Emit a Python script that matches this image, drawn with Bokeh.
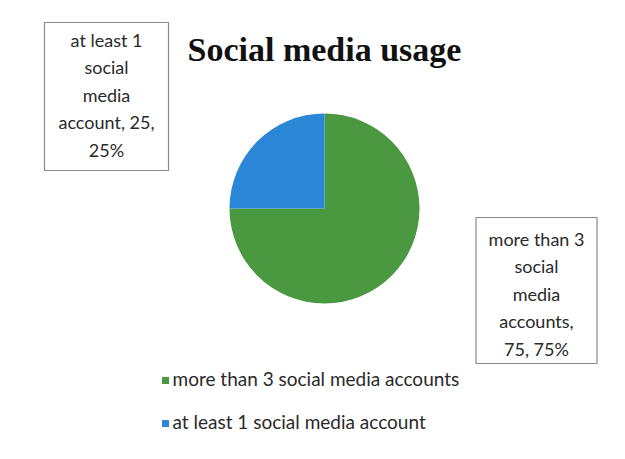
import numpy as np
from bokeh.plotting import figure
from bokeh.models import Range1d, ColumnDataSource
from bokeh.core.properties import value
from bokeh.embed import file_html
from bokeh.resources import INLINE

title = "Social media usage"
categories = ["more than 3 social media accounts", "at least 1 social media account"]
values = [75, 25]
colors = ["#4a983f", "#2c86d8"]
label_texts = ["more than 3\nsocial\nmedia\naccounts,\n75, 75%",
               "at least 1\nsocial\nmedia\naccount, 25,\n25%"]

W, H = 625, 459
p = figure(width=W, height=H, output_backend="svg", toolbar_location=None,
           x_range=Range1d(0, W), y_range=Range1d(H, 0),
           min_border=0, outline_line_color=None)
p.axis.visible = False
p.grid.visible = False
p.background_fill_color = "white"

# pie: starts at 12 o'clock and runs clockwise
total = sum(values)
fr = np.array(values) / total
ends = np.cumsum(fr) * 2 * np.pi
starts = ends - fr * 2 * np.pi
src = ColumnDataSource(dict(start=np.pi / 2 - starts, end=np.pi / 2 - ends, color=colors))
p.wedge(x=324, y=208, radius=95, start_angle="start", end_angle="end",
        direction="clock", fill_color="color", line_color=None,
        source=src)

# title
p.text(x=[324], y=[49], text=[title], text_font=value("Liberation Serif"),
       text_font_style="bold", text_font_size="34px", text_color="#111111",
       text_align="center", text_baseline="middle")

# data label boxes
box_x = [536, 106]
box_y = [290, 96]
box_w = [121, 124]
box_h = [146, 148]
p.rect(x=box_x, y=box_y, width=box_w, height=box_h, fill_color="white",
       line_color="#8a8a8a", line_width=1.2)
p.text(x=box_x, y=[293, 94], text=label_texts, text_font=value("Lato"),
       text_font_size="18px", text_color="#2a2a2a", text_align="center",
       text_baseline="middle", text_line_height=1.25)

# legend
leg_y = [380, 423]
p.rect(x=[165, 165], y=leg_y, width=[7, 7], height=[7, 7], fill_color=colors, line_color=None)
p.text(x=[172, 172], y=[378, 421], text=categories, text_font=value("Lato"),
       text_font_size="19px", text_color="#2a2a2a", text_align="left",
       text_baseline="middle")

open("out.html", "w").write(file_html(p, INLINE))
